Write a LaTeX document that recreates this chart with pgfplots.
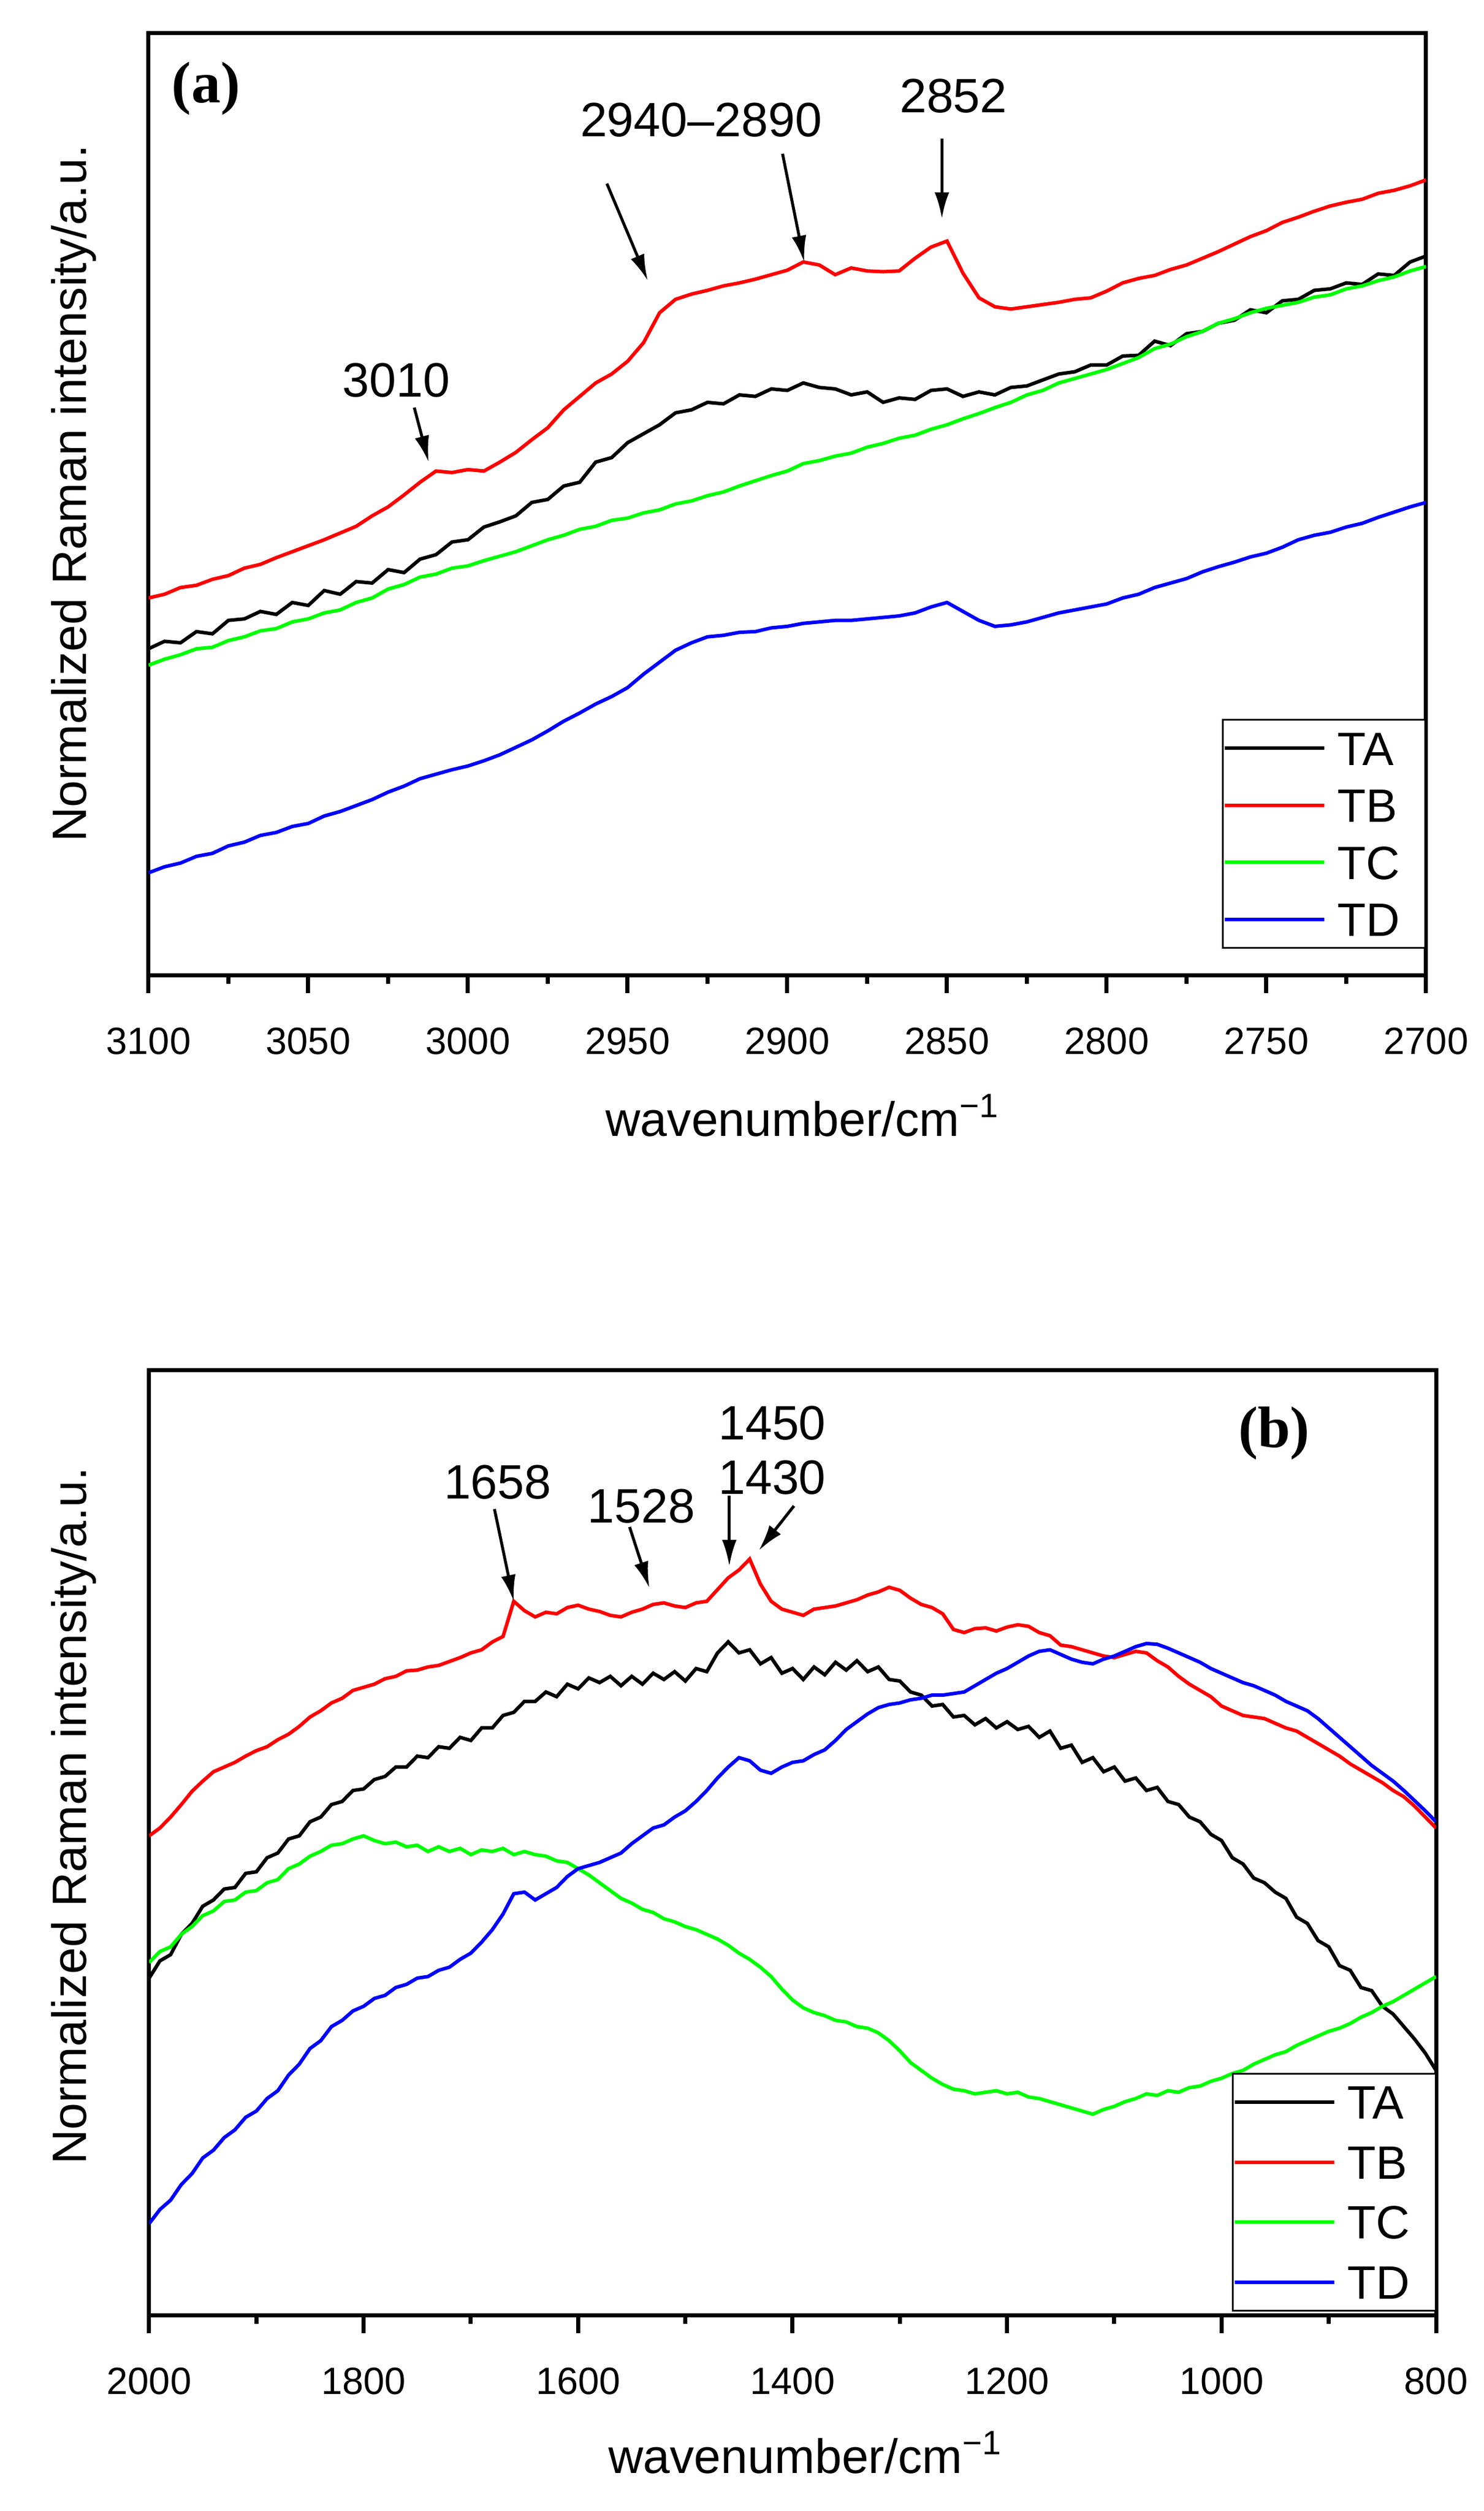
\documentclass[border=0pt]{standalone}
\usepackage{fontspec}
\setmainfont{Liberation Sans}
\newfontfamily\tnr{Liberation Serif}
\usepackage{pgfplots}
\pgfplotsset{compat=1.18}
\usepackage{pgfplotstable}
\usetikzlibrary{arrows.meta}

% y values in screen units (down = larger)
\pgfplotstableread{
wn   TA   TB   TC   TD
3100 868 800 890 1168
3095 858 795 882 1160
3090 860 786 876 1155
3085 845 783 868 1146
3080 848 775 866 1142
3075 830 770 857 1132
3070 828 760 852 1127
3065 818 755 844 1118
3060 822 746 841 1114
3055 806 738 832 1106
3050 810 730 828 1102
3045 790 722 820 1092
3040 795 713 816 1086
3035 778 704 806 1078
3030 780 690 800 1070
3025 762 678 788 1060
3020 766 662 782 1052
3015 748 645 772 1042
3010 742 630 768 1036
3005 725 632 760 1030
3000 722 628 757 1025
2995 705 630 750 1018
2990 698 618 744 1010
2985 690 605 738 1000
2980 672 588 730 990
2975 668 572 722 978
2970 650 548 716 965
2965 645 530 708 954
2960 618 512 704 942
2955 612 500 696 932
2950 592 483 693 920
2945 580 458 686 902
2940 568 418 682 886
2935 552 400 674 870
2930 548 393 670 860
2925 538 388 663 852
2920 540 382 658 850
2915 528 378 650 846
2910 530 373 643 845
2905 520 367 636 840
2900 522 361 630 838
2895 512 350 620 834
2890 518 354 616 832
2885 520 367 610 830
2880 528 358 606 830
2875 524 362 598 828
2870 538 363 593 826
2865 532 362 586 824
2860 534 345 582 820
2855 522 330 574 812
2850 520 322 568 806
2845 530 365 560 818
2840 524 398 553 830
2835 528 410 545 838
2830 518 413 538 836
2825 516 410 528 832
2820 508 407 522 826
2815 500 404 512 820
2810 497 400 506 816
2805 488 398 500 812
2800 488 389 494 808
2795 476 378 486 800
2790 475 372 478 795
2785 456 368 466 786
2780 462 360 460 780
2775 446 354 450 774
2770 443 345 443 765
2765 432 336 432 758
2760 428 326 426 752
2755 414 316 418 745
2750 418 308 412 740
2745 402 297 408 732
2740 400 290 404 722
2735 388 282 397 716
2730 386 275 394 712
2725 378 270 386 705
2720 380 266 382 700
2715 366 258 375 692
2710 368 254 370 685
2705 350 248 362 678
2700 342 240 356 672
}\topdata

\pgfplotstableread{
wn   TA   TB   TC   TD
2000 882 700 862 1196
1990 860 690 848 1178
1980 852 676 842 1166
1970 826 660 826 1146
1960 812 643 816 1132
1950 790 630 802 1112
1940 782 618 796 1102
1930 768 612 784 1086
1920 766 606 782 1076
1910 748 598 772 1060
1900 746 591 770 1052
1890 728 586 760 1036
1880 722 577 756 1026
1870 704 570 742 1006
1860 700 560 736 992
1850 682 548 726 972
1840 676 540 720 962
1830 660 530 712 944
1820 656 524 710 936
1810 642 514 704 924
1800 640 510 700 918
1790 628 506 706 908
1780 624 499 710 904
1770 612 496 708 894
1760 612 489 714 890
1750 598 488 712 882
1740 600 484 720 880
1730 586 482 714 872
1720 588 477 720 868
1710 574 472 716 858
1700 578 466 724 850
1690 562 462 718 836
1680 562 452 720 820
1670 546 445 716 800
1660 542 400 724 774
1650 528 412 720 772
1640 528 420 724 782
1630 516 414 726 774
1620 522 416 732 766
1610 506 408 734 752
1600 512 405 742 742
1590 498 410 750 738
1580 504 413 760 734
1570 496 418 770 728
1560 508 420 780 722
1550 496 414 786 710
1540 506 410 794 700
1530 492 404 798 690
1520 500 402 806 686
1510 490 406 810 676
1500 502 408 816 668
1490 486 402 820 656
1480 490 400 826 642
1470 466 385 832 626
1460 452 370 840 612
1450 466 360 850 600
1440 462 346 858 604
1430 480 378 868 616
1420 472 400 880 620
1410 492 410 896 612
1400 486 414 910 606
1390 500 418 920 604
1380 484 410 926 596
1370 494 408 930 590
1360 478 406 936 578
1350 488 402 938 564
1340 476 398 944 554
1330 490 392 946 544
1320 484 388 952 536
1310 500 382 962 532
1300 502 386 975 530
1290 516 396 990 526
1280 520 404 1000 524
1270 534 408 1010 520
1260 532 416 1018 520
1250 548 436 1024 518
1240 546 440 1026 516
1230 558 435 1030 508
1220 550 434 1028 500
1210 562 438 1026 492
1200 554 433 1030 486
1190 564 430 1028 478
1180 560 432 1034 470
1170 574 440 1036 464
1160 566 444 1040 462
1150 588 456 1044 468
1140 584 458 1048 474
1130 606 462 1052 478
1120 600 466 1056 480
1110 618 470 1050 474
1100 612 472 1046 470
1090 630 468 1040 464
1080 626 464 1036 458
1070 642 466 1030 454
1060 638 476 1032 455
1050 656 484 1026 460
1040 660 496 1028 466
1030 676 506 1022 472
1020 682 514 1020 478
1010 698 522 1014 486
1000 706 534 1010 492
990 728 540 1004 498
980 736 546 1000 504
970 754 548 992 508
960 760 550 986 514
950 772 556 980 520
940 780 562 976 528
930 804 566 968 534
920 812 574 962 540
910 834 582 956 550
900 842 590 950 562
890 866 598 946 574
880 872 608 940 586
870 894 616 932 598
860 898 624 926 610
850 918 632 918 620
840 928 642 912 630
830 944 650 904 642
820 960 662 896 655
810 978 676 888 668
800 1000 690 880 682
}\botdata

\definecolor{tgreen}{RGB}{0,255,0}

\tikzset{
  note/.style={font=\fontsize{16.5}{19}\selectfont},
  pin/.style={-{Latex[length=9pt,width=5pt]}, line width=1pt},
}

\pgfplotsset{
  raman/.style={
    scale only axis,
    x dir=reverse, y dir=reverse,
    axis line style={line width=1.4pt},
    tick style={line width=1.4pt, black},
    tick align=outside,
    major tick length=6.2pt, minor tick length=3pt,
    xtick pos=bottom, ytick=\empty,
    minor x tick num=1,
    /pgf/number format/assume math mode=true,
    /pgf/number format/1000 sep={},
    xticklabel style={font=\fontsize{13}{15}\selectfont, anchor=north, yshift=-8.3pt},
    label style={font=\fontsize{16.5}{19}\selectfont},
    xlabel={wavenumber/cm\textsuperscript{−1}},
    ylabel={Normalized Raman intensity/a.u.},
    legend cell align=left,
    legend image code/.code={\path (0pt,0pt); \draw[##1] (0pt,0pt) -- (34pt,0pt);},
    legend style={anchor=south east, draw=black, line width=0.5pt,
      font=\fontsize{16}{16}\selectfont, inner xsep=0pt, inner ysep=4pt,
      row sep=8pt, column sep=4pt,
      nodes={inner sep=0pt, text height=11.5pt, text depth=0pt, text width=30pt, align=left}},
    every axis plot/.append style={line width=1.2pt},
  },
}

\begin{document}
\begin{tikzpicture}
\path (0pt,0pt) rectangle (507.4pt,-858.6pt);

\begin{axis}[raman,
  at={(50.8pt,-333.4pt)}, anchor=south west,
  width=436.8pt, height=322.2pt,
  xmin=2700, xmax=3100, ymin=43, ymax=1305,
  xtick={2700,2750,...,3100},
  xlabel style={at={(axis description cs:0.512,0)}, anchor=base, yshift=-55pt},
  ylabel style={at={(axis description cs:-0.0586,0.511)}, anchor=center},
  legend style={at={(1,0.028)}},
]
\addplot[black] table[x=wn, y=TA] {\topdata};
\addplot[red] table[x=wn, y=TB] {\topdata};
\addplot[tgreen] table[x=wn, y=TC] {\topdata};
\addplot[blue] table[x=wn, y=TD] {\topdata};
\legend{TA,TB,TC,TD}

\node[font=\fontsize{20}{22}\tnr\bfseries] at (axis cs:3082,118) {(a)};
\node[note] at (axis cs:2927,160) {2940--2890};
\draw[pin] (axis cs:2956.5,245) -- (axis cs:2943.7,375);
\draw[pin] (axis cs:2901.5,205) -- (axis cs:2894.7,350);
\node[note] at (axis cs:2848,128) {2852};
\draw[pin] (axis cs:2851.6,185) -- (axis cs:2851.6,292);
\node[note] at (axis cs:3022.4,508) {3010};
\draw[pin] (axis cs:3016.8,545) -- (axis cs:3012.3,618);
\end{axis}

\begin{axis}[raman,
  at={(51pt,-791.6pt)}, anchor=south west,
  width=440pt, height=323.2pt,
  xmin=800, xmax=2000, ymin=104, ymax=1313,
  xtick={800,1000,...,2000},
  xlabel style={at={(axis description cs:0.51,0)}, anchor=base, yshift=-54pt},
  ylabel style={at={(axis description cs:-0.0586,0.528)}, anchor=center},
  legend style={at={(1,0.004)}, row sep=9pt},
]
\addplot[black] table[x=wn, y=TA] {\botdata};
\addplot[red] table[x=wn, y=TB] {\botdata};
\addplot[tgreen] table[x=wn, y=TC] {\botdata};
\addplot[blue] table[x=wn, y=TD] {\botdata};
\legend{TA,TB,TC,TD}

\node[font=\fontsize{20}{22}\tnr\bfseries] at (axis cs:951,185) {(b)};
\node[note] at (axis cs:1675,248) {1658};
\draw[pin] (axis cs:1678,282) -- (axis cs:1660,400);
\node[note] at (axis cs:1541,278) {1528};
\draw[pin] (axis cs:1552,305) -- (axis cs:1533.5,383);
\node[note] at (axis cs:1419,172) {1450};
\node[note] at (axis cs:1419,242) {1430};
\draw[pin] (axis cs:1459,265) -- (axis cs:1459,355);
\draw[pin] (axis cs:1398.7,278) -- (axis cs:1431.5,335);
\end{axis}
\end{tikzpicture}
\end{document}
